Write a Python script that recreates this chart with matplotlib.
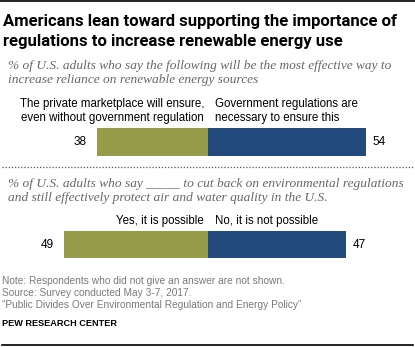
import matplotlib
matplotlib.use("Agg")
import matplotlib.pyplot as plt

W, H = 415, 347

title = "Americans lean toward supporting the importance of\nregulations to increase renewable energy use"
sub1 = "% of U.S. adults who say the following will be the most effective way to\nincrease reliance on renewable energy sources"
sub2 = "% of U.S. adults who say _____ to cut back on environmental regulations\nand still effectively protect air and water quality in the U.S."
labels1 = ["The private marketplace will ensure,\neven without government regulation",
           "Government regulations are\nnecessary to ensure this"]
values1 = [38, 54]
labels2 = ["Yes, it is possible", "No, it is not possible"]
values2 = [49, 47]
notes = ("Note: Respondents who did not give an answer are not shown.\n"
         "Source: Survey conducted May 3-7, 2017.\n"
         "\u201cPublic Divides Over Environmental Regulation and Energy Policy\u201d")

green = "#959D4B"
blue = "#234A7C"
gray = "#7a7a7a"
sans = "Liberation Sans"
serif = "Liberation Serif"

fig = plt.figure(figsize=(W / 100, H / 100), dpi=100)


def fx(x):
    return x / W


def fy(y):
    return 1 - y / H


# top and bottom rules
fig.add_artist(plt.Line2D([0, 1], [fy(1), fy(1)], color="black", lw=1.2))
fig.add_artist(plt.Line2D([fx(2), fx(413)], [fy(345), fy(345)], color="black", lw=1.2))
fig.add_artist(plt.Line2D([fx(2), fx(413)], [fy(167), fy(167)], color="#555555", lw=0.9,
                          linestyle=(0, (1, 1.5))))

fig.text(fx(3), fy(31.5), title, fontsize=12.0, fontweight="bold", family="Roboto",
         va="center", ha="left", linespacing=1.35)
fig.text(fx(8), fy(73), sub1, fontsize=9.6, style="italic", family=serif, color="#666666",
         va="center", ha="left", linespacing=1.3)
fig.text(fx(8), fy(191), sub2, fontsize=9.6, style="italic", family=serif, color="#666666",
         va="center", ha="left", linespacing=1.3)

scale = 2.93   # pixels per percentage point
cx = 208       # pixel position of the split


def bar_axes(y0, y1, lab, vals, lab_y):
    ax = fig.add_axes([0, fy(y1), 1, (y1 - y0) / H])
    ax.set_xlim(-cx / scale, (W - cx) / scale)
    ax.set_ylim(-0.5, 0.5)
    ax.barh(0, -vals[0], height=1, left=0, color=green)
    ax.barh(0, vals[1], height=1, left=0, color=blue)
    ax.text(-vals[0] - 3.5, 0, str(vals[0]), ha="right", va="center", fontsize=8.5, family=sans)
    ax.text(vals[1] + 2.3, 0, str(vals[1]), ha="left", va="center", fontsize=8.5, family=sans)
    ax.axis("off")
    fig.text(fx(cx - 4), fy(lab_y), lab[0], ha="right", va="bottom", fontsize=8.3,
             family=sans, linespacing=1.2)
    fig.text(fx(cx + 7), fy(lab_y), lab[1], ha="left", va="bottom", fontsize=8.3,
             family=sans, linespacing=1.2)
    return ax


bar_axes(128, 156, labels1, values1, 124)
bar_axes(231, 258, labels2, values2, 227)

fig.text(fx(2), fy(293), notes, fontsize=7.3, family=sans, color=gray, va="center",
         ha="left", linespacing=1.25)
fig.text(fx(2), fy(324), "PEW RESEARCH CENTER", fontsize=6.6, fontweight="bold",
         family=sans, va="center", ha="left")

fig.savefig("out.png", dpi=100)
